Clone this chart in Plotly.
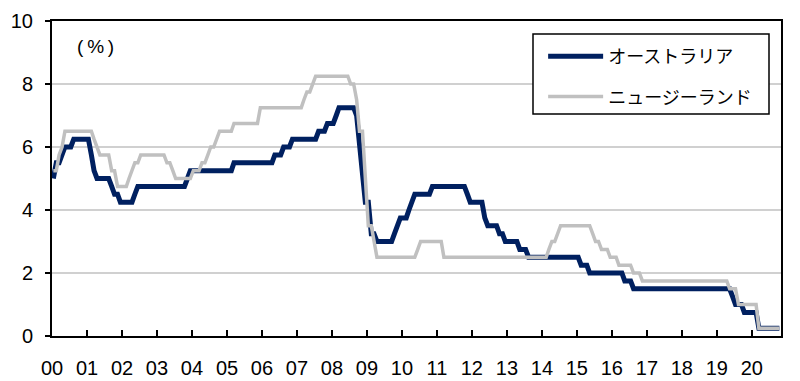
import pandas as pd
import plotly.graph_objects as go

# Monthly policy rates (%), Jan 2000 - Oct 2020, month-end values
months = pd.date_range("2000-01-01", "2020-10-01", freq="MS") + pd.Timedelta(days=14)

australia = [
    5.00, 5.50, 5.50, 5.75, 6.00, 6.00, 6.00, 6.25, 6.25, 6.25, 6.25, 6.25,  # 2000
    6.25, 5.75, 5.25, 5.00, 5.00, 5.00, 5.00, 5.00, 4.75, 4.50, 4.50, 4.25,  # 2001
    4.25, 4.25, 4.25, 4.25, 4.50, 4.75, 4.75, 4.75, 4.75, 4.75, 4.75, 4.75,  # 2002
    4.75, 4.75, 4.75, 4.75, 4.75, 4.75, 4.75, 4.75, 4.75, 4.75, 5.00, 5.25,  # 2003
    5.25, 5.25, 5.25, 5.25, 5.25, 5.25, 5.25, 5.25, 5.25, 5.25, 5.25, 5.25,  # 2004
    5.25, 5.25, 5.50, 5.50, 5.50, 5.50, 5.50, 5.50, 5.50, 5.50, 5.50, 5.50,  # 2005
    5.50, 5.50, 5.50, 5.50, 5.75, 5.75, 5.75, 6.00, 6.00, 6.00, 6.25, 6.25,  # 2006
    6.25, 6.25, 6.25, 6.25, 6.25, 6.25, 6.25, 6.50, 6.50, 6.50, 6.75, 6.75,  # 2007
    6.75, 7.00, 7.25, 7.25, 7.25, 7.25, 7.25, 7.25, 7.00, 6.00, 5.25, 4.25,  # 2008
    4.25, 3.25, 3.25, 3.00, 3.00, 3.00, 3.00, 3.00, 3.00, 3.25, 3.50, 3.75,  # 2009
    3.75, 3.75, 4.00, 4.25, 4.50, 4.50, 4.50, 4.50, 4.50, 4.50, 4.75, 4.75,  # 2010
    4.75, 4.75, 4.75, 4.75, 4.75, 4.75, 4.75, 4.75, 4.75, 4.75, 4.50, 4.25,  # 2011
    4.25, 4.25, 4.25, 4.25, 3.75, 3.50, 3.50, 3.50, 3.50, 3.25, 3.25, 3.00,  # 2012
    3.00, 3.00, 3.00, 3.00, 2.75, 2.75, 2.75, 2.50, 2.50, 2.50, 2.50, 2.50,  # 2013
    2.50, 2.50, 2.50, 2.50, 2.50, 2.50, 2.50, 2.50, 2.50, 2.50, 2.50, 2.50,  # 2014
    2.50, 2.25, 2.25, 2.25, 2.00, 2.00, 2.00, 2.00, 2.00, 2.00, 2.00, 2.00,  # 2015
    2.00, 2.00, 2.00, 2.00, 1.75, 1.75, 1.75, 1.50, 1.50, 1.50, 1.50, 1.50,  # 2016
    1.50, 1.50, 1.50, 1.50, 1.50, 1.50, 1.50, 1.50, 1.50, 1.50, 1.50, 1.50,  # 2017
    1.50, 1.50, 1.50, 1.50, 1.50, 1.50, 1.50, 1.50, 1.50, 1.50, 1.50, 1.50,  # 2018
    1.50, 1.50, 1.50, 1.50, 1.50, 1.25, 1.00, 1.00, 1.00, 0.75, 0.75, 0.75,  # 2019
    0.75, 0.75, 0.25, 0.25, 0.25, 0.25, 0.25, 0.25, 0.25, 0.25,              # 2020
]

new_zealand = [
    5.25, 5.25, 5.75, 6.00, 6.50, 6.50, 6.50, 6.50, 6.50, 6.50, 6.50, 6.50,  # 2000
    6.50, 6.50, 6.25, 6.00, 5.75, 5.75, 5.75, 5.75, 5.25, 5.25, 4.75, 4.75,  # 2001
    4.75, 4.75, 5.00, 5.25, 5.50, 5.50, 5.75, 5.75, 5.75, 5.75, 5.75, 5.75,  # 2002
    5.75, 5.75, 5.75, 5.50, 5.50, 5.25, 5.00, 5.00, 5.00, 5.00, 5.00, 5.00,  # 2003
    5.25, 5.25, 5.25, 5.50, 5.50, 5.75, 6.00, 6.00, 6.25, 6.50, 6.50, 6.50,  # 2004
    6.50, 6.50, 6.75, 6.75, 6.75, 6.75, 6.75, 6.75, 6.75, 6.75, 6.75, 7.25,  # 2005
    7.25, 7.25, 7.25, 7.25, 7.25, 7.25, 7.25, 7.25, 7.25, 7.25, 7.25, 7.25,  # 2006
    7.25, 7.25, 7.50, 7.75, 7.75, 8.00, 8.25, 8.25, 8.25, 8.25, 8.25, 8.25,  # 2007
    8.25, 8.25, 8.25, 8.25, 8.25, 8.25, 8.00, 8.00, 7.50, 6.50, 6.50, 5.00,  # 2008
    3.50, 3.50, 3.00, 2.50, 2.50, 2.50, 2.50, 2.50, 2.50, 2.50, 2.50, 2.50,  # 2009
    2.50, 2.50, 2.50, 2.50, 2.50, 2.75, 3.00, 3.00, 3.00, 3.00, 3.00, 3.00,  # 2010
    3.00, 3.00, 2.50, 2.50, 2.50, 2.50, 2.50, 2.50, 2.50, 2.50, 2.50, 2.50,  # 2011
    2.50, 2.50, 2.50, 2.50, 2.50, 2.50, 2.50, 2.50, 2.50, 2.50, 2.50, 2.50,  # 2012
    2.50, 2.50, 2.50, 2.50, 2.50, 2.50, 2.50, 2.50, 2.50, 2.50, 2.50, 2.50,  # 2013
    2.50, 2.50, 2.75, 3.00, 3.00, 3.25, 3.50, 3.50, 3.50, 3.50, 3.50, 3.50,  # 2014
    3.50, 3.50, 3.50, 3.50, 3.50, 3.25, 3.00, 3.00, 2.75, 2.75, 2.75, 2.50,  # 2015
    2.50, 2.50, 2.25, 2.25, 2.25, 2.25, 2.25, 2.00, 2.00, 2.00, 1.75, 1.75,  # 2016
    1.75, 1.75, 1.75, 1.75, 1.75, 1.75, 1.75, 1.75, 1.75, 1.75, 1.75, 1.75,  # 2017
    1.75, 1.75, 1.75, 1.75, 1.75, 1.75, 1.75, 1.75, 1.75, 1.75, 1.75, 1.75,  # 2018
    1.75, 1.75, 1.75, 1.75, 1.50, 1.50, 1.50, 1.00, 1.00, 1.00, 1.00, 1.00,  # 2019
    1.00, 1.00, 0.25, 0.25, 0.25, 0.25, 0.25, 0.25, 0.25, 0.25,              # 2020
]

year_ticks = [f"{y}-01-01" for y in range(2000, 2021)]
year_labels = ["00", "01", "02", "03", "04", "05", "06", "07", "08", "09", "10",
               "11", "12", "13", "14", "15", "16", "17", "18", "19", "20"]
y_ticks = [0, 2, 4, 6, 8, 10]

FONT = "Liberation Sans, Arial, Noto Sans CJK JP"
JP = "Noto Sans CJK JP, Liberation Sans"

fig = go.Figure()
fig.add_trace(go.Scatter(
    x=months, y=australia, mode="lines", name="オーストラリア",
    line=dict(color="#002060", width=5), legendgroup="a",
))
fig.add_trace(go.Scatter(
    x=months, y=new_zealand, mode="lines", name="ニュージーランド",
    line=dict(color="#c0c0c0", width=3.5), legendgroup="b",
))

fig.update_layout(
    width=800, height=381,
    margin=dict(l=52, r=19, t=21, b=45),
    paper_bgcolor="white", plot_bgcolor="white",
    font=dict(family=FONT, size=20, color="black"),
    showlegend=True,
    legend=dict(
        x=0.6737, y=0.946, xanchor="left", yanchor="top",
        borderwidth=0, bgcolor="rgba(0,0,0,0)",
        font=dict(family=JP, size=18, color="black"),
        tracegroupgap=14, itemwidth=55,
    ),
    shapes=[dict(
        type="rect", xref="paper", yref="paper",
        x0=(533 - 52) / 729, x1=(769 - 52) / 729,
        y0=(336 - 114) / 315, y1=(336 - 34) / 315,
        line=dict(color="black", width=1.5), fillcolor="white", layer="above",
    )],
    annotations=[dict(
        text="(\u2009%\u2009)", x=(75 - 52) / 729, y=(336 - 46) / 315,
        xref="paper", yref="paper",
        xanchor="left", yanchor="middle", showarrow=False,
        font=dict(family=FONT, size=19, color="black"),
    )],
)

fig.update_xaxes(
    type="date", range=["2000-01-01", "2020-11-01"],
    tickvals=year_ticks, ticktext=year_labels,
    ticks="inside", ticklen=6, tickwidth=2, tickcolor="black",
    showline=True, linewidth=2, linecolor="black", mirror=True,
    showgrid=False, zeroline=False, ticklabelstandoff=13, automargin=False,
)
fig.update_yaxes(
    range=[0, 10], tickvals=y_ticks,
    ticks="outside", ticklen=5, tickwidth=2, tickcolor="black",
    showline=True, linewidth=2, linecolor="black", mirror=True,
    showgrid=True, gridcolor="#d0d0d0", gridwidth=1.5, zeroline=False,
    ticklabelstandoff=8, automargin=False,
)

fig.write_html("out.html")
